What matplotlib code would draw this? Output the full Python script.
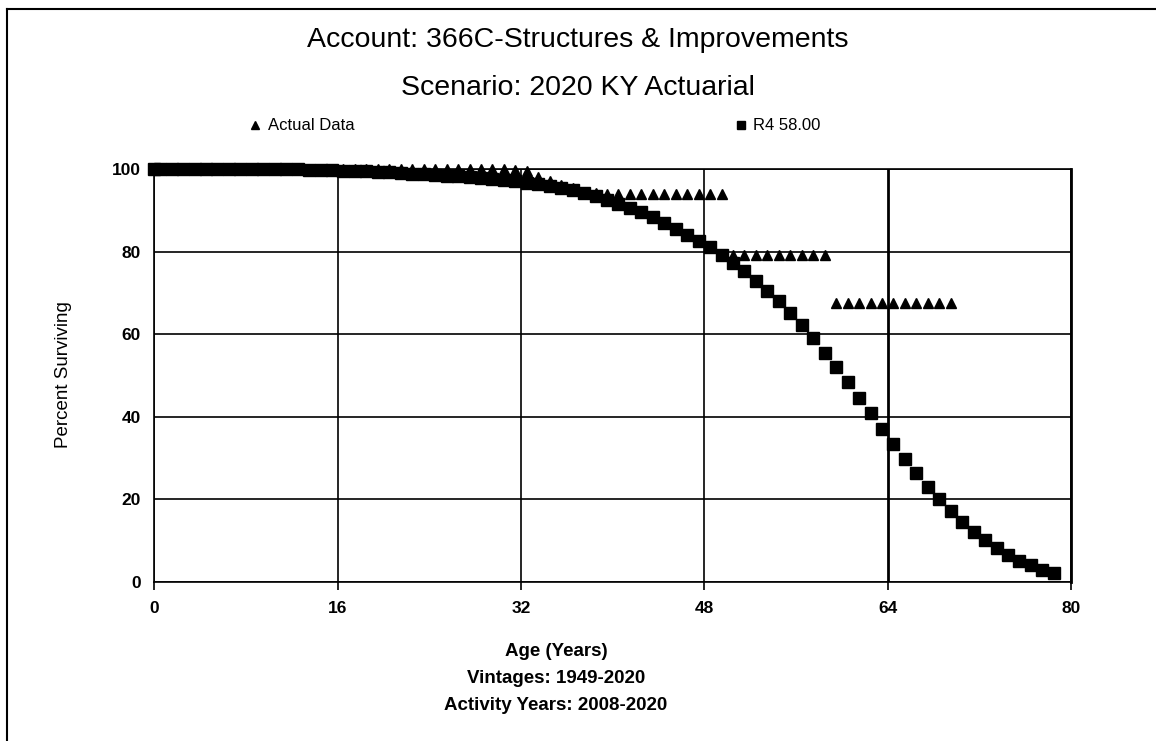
import matplotlib.pyplot as plt
from matplotlib.lines import Line2D

plt.rcParams['font.family'] = ['Liberation Sans', 'DejaVu Sans']

# survivor curve ages (mid-year) and values
r4_ages = [0] + [a + 0.5 for a in range(79)]
r4_pct = [100.0,
          100.0, 100.0, 100.0, 100.0, 100.0, 100.0, 100.0, 100.0, 100.0, 100.0,
          100.0, 99.9, 99.9, 99.8, 99.8, 99.7, 99.6, 99.5, 99.4, 99.3,
          99.2, 99.0, 98.9, 98.7, 98.6, 98.4, 98.2, 98.0, 97.8, 97.5,
          97.3, 97.0, 96.7, 96.3, 95.9, 95.4, 94.8, 94.2, 93.4, 92.6,
          91.6, 90.6, 89.5, 88.3, 86.9, 85.5, 84.0, 82.6, 81.0, 79.2,
          77.2, 75.2, 73.0, 70.5, 68.0, 65.2, 62.2, 59.0, 55.5, 52.0,
          48.4, 44.6, 40.8, 37.0, 33.3, 29.7, 26.3, 23.1, 20.1, 17.2,
          14.5, 12.2, 10.1, 8.3, 6.6, 5.2, 4.0, 3.0, 2.2]

actual_ages = [a + 0.5 for a in range(70)]
actual_pct = ([100.0] * 30
              + [99.9, 99.8, 99.6, 98.0, 97.0, 96.2, 95.3, 94.5, 94.2]
              + [94.0] * 11
              + [79.2] * 9
              + [67.6] * 11)

x_ticks = [0, 16, 32, 48, 64, 80]
y_ticks = [0, 20, 40, 60, 80, 100]

fig = plt.figure(figsize=(11.56, 7.41), dpi=100)
ax = fig.add_axes([0.1336, 0.2146, 0.7929, 0.5573])

ax.plot(actual_ages, actual_pct, linestyle='none', marker='^', ms=7.5,
        color='black', clip_on=False, zorder=3)
ax.plot(r4_ages, r4_pct, linestyle='none', marker='s', ms=8,
        color='black', clip_on=False, zorder=4)

ax.set_xlim(0, 80)
ax.set_ylim(0, 100)
ax.set_xticks(x_ticks)
ax.set_yticks(y_ticks)
ax.grid(True, color='black', lw=1.2)
ax.set_axisbelow(True)
for s in ax.spines.values():
    s.set_color('black')
    s.set_linewidth(1.2)
ax.spines['right'].set_linewidth(2)
ax.get_xgridlines()[4].set_linewidth(2)
ax.tick_params(axis='x', direction='out', length=6, width=1.2, pad=8,
               labelsize=12.5)
ax.tick_params(axis='y', length=0, pad=10, labelsize=12.5)
for lab in ax.get_xticklabels() + ax.get_yticklabels():
    lab.set_fontweight('bold')

fig.text(63 / 1156, 1 - 375 / 741, 'Percent Surviving', rotation=90,
         ha='center', va='center', fontsize=13.5)

x_lines = ['Age (Years)', 'Vintages: 1949-2020', 'Activity Years: 2008-2020']
for i, txt in enumerate(x_lines):
    fig.text(556 / 1156, 1 - (652 + 26.5 * i) / 741, txt,
             ha='center', va='center', fontsize=13.5, fontweight='bold')

fig.text(0.5, 1 - 40 / 741, 'Account: 366C-Structures & Improvements',
         ha='center', va='center', fontsize=20.5)
fig.text(0.5, 1 - 88 / 741, 'Scenario: 2020 KY Actuarial',
         ha='center', va='center', fontsize=20.5)

# legend drawn by hand to match the original placement
fig.add_artist(Line2D([0.221], [0.831], marker='^', ms=6, color='black',
                      linestyle='none'))
fig.text(0.232, 0.831, 'Actual Data', ha='left', va='center', fontsize=12)
fig.add_artist(Line2D([0.641], [0.831], marker='s', ms=6, color='black',
                      linestyle='none'))
fig.text(0.651, 0.831, 'R4 58.00', ha='left', va='center', fontsize=12)

# frame lines at left and top of the figure
fig.add_artist(Line2D([0.006, 0.006], [0, 0.988], color='black', lw=1.5))
fig.add_artist(Line2D([0.006, 1.0], [0.988, 0.988], color='black', lw=1.5))

fig.savefig('out.png', dpi=100)
